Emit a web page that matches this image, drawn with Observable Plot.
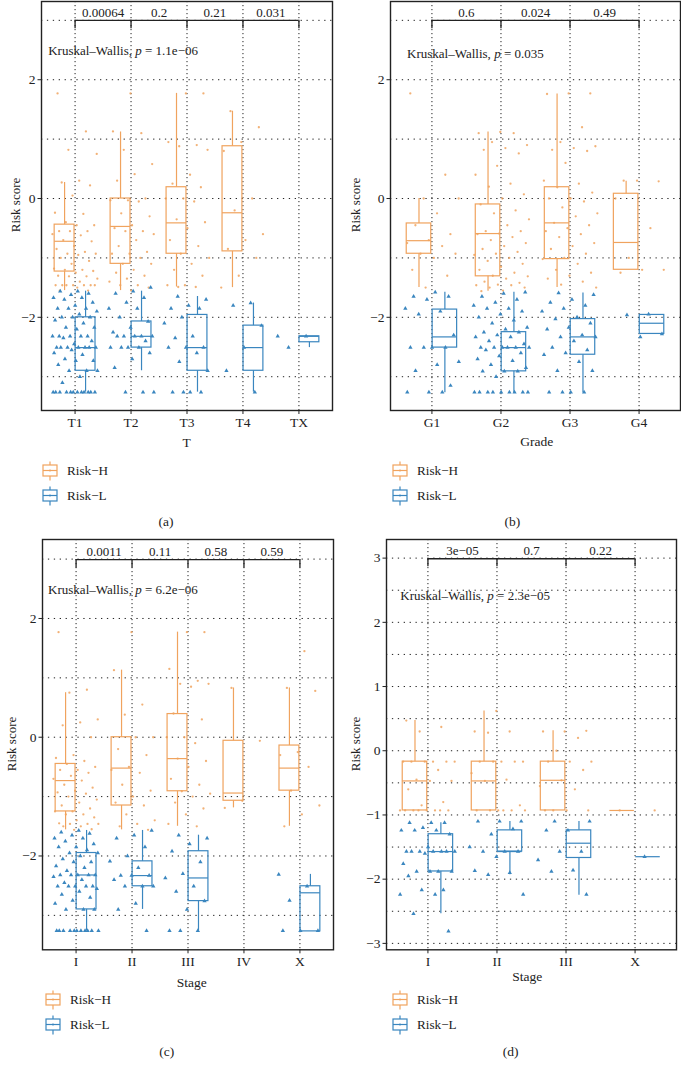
<!DOCTYPE html>
<html><head><meta charset="utf-8">
<script src="https://cdn.jsdelivr.net/npm/d3@7"></script>
<script src="https://cdn.jsdelivr.net/npm/@observablehq/plot@0.6"></script>
<style>
body{margin:0;background:#fff;}
#root{position:relative;width:681px;height:1069px;overflow:hidden;font-family:"Liberation Serif",serif;color:#222;}
.pnl{position:absolute;}
.lbl{position:absolute;transform:translate(-50%,-50%);white-space:nowrap;font-size:13.5px;}
.leg{position:absolute;font-size:13.2px;white-space:nowrap;display:flex;align-items:center;transform:translateY(-50%);}
</style></head><body><div id="root"></div>
<script>
const ORANGE = "#F0A35E", BLUE = "#3A86BF";

// ---------- Panel (a): T ----------
const aCats = ["T1","T2","T3","T4","TX"];
const aPvals = ["0.00064","0.2","0.21","0.031"];
const aKW = "1.1e−06";
const aH_q1  = [-1.23,-1.10,-0.93,-0.89,null];
const aH_med = [-0.72,-0.47,-0.41,-0.24,null];
const aH_q3  = [-0.44, 0.00, 0.19, 0.88,null];
const aH_lo  = [-1.55,-1.55,-1.49,-1.50,null];
const aH_hi  = [ 0.27, 1.12, 1.77, 1.47,null];
const aL_q1  = [-2.90,-2.51,-2.90,-2.90,-2.42];
const aL_med = [-2.51,-2.32,-2.51,-2.51,-2.32];
const aL_q3  = [-2.00,-2.07,-1.96,-2.14,-2.32];
const aL_lo  = [-3.26,-2.90,-3.26,-3.26,-2.51];
const aL_hi  = [-1.56,-1.56,-1.65,-1.76,-2.32];
const aH_pts = [
 [1.77,1.13,0.82,0.75,0.30,0.27,0.22,0.05,-0.24,-0.26,-0.40,-0.45,-0.45,-0.55,-0.55,-0.55,-0.60,-0.62,-0.70,-0.72,-0.80,-0.85,-0.90,-0.93,-0.93,-0.95,-1.00,-1.05,-1.10,-1.18,-1.20,-1.20,-1.22,-1.25,-1.30,-1.31,-1.31,-1.35,-1.40,-1.46,-1.46,-1.46,-1.46,-1.46,-1.46,-1.46,-1.50,-1.55,-1.55],
 [1.77,1.13,1.10,0.82,0.58,0.41,0.30,0.00,-0.03,-0.03,-0.05,-0.25,-0.30,-0.45,-0.50,-0.55,-0.55,-0.60,-0.70,-0.80,-0.90,-0.93,-0.93,-1.00,-1.10,-1.10,-1.20,-1.25,-1.30,-1.35,-1.40,-1.46,-1.46,-1.50,-1.55],
 [1.77,1.77,0.95,0.90,0.88,0.82,0.40,0.25,0.19,0.00,0.00,-0.05,-0.35,-0.40,-0.50,-0.70,-0.80,-0.93,-1.00,-1.10,-1.20,-1.30,-1.46,-1.46,-1.49,-1.49],
 [1.47,1.20,0.95,0.80,0.00,-0.20,-0.60,-0.70,-0.85,-1.00,-1.30,-1.50],
 []
];
const aL_pts = [
 [-1.56,-1.56,-1.60,-1.62,-1.67,-1.67,-1.70,-1.75,-1.80,-1.85,-1.85,-1.85,-1.90,-1.95,-2.00,-2.00,-2.00,-2.05,-2.10,-2.17,-2.17,-2.20,-2.32,-2.32,-2.32,-2.32,-2.32,-2.35,-2.40,-2.45,-2.51,-2.51,-2.51,-2.51,-2.51,-2.51,-2.51,-2.55,-2.60,-2.63,-2.70,-2.73,-2.73,-2.80,-2.90,-2.90,-2.90,-3.00,-3.10,-3.26,-3.26,-3.26,-3.26,-3.26,-3.26,-3.26,-3.26,-3.26,-3.26,-3.26,-3.26],
 [-1.50,-1.56,-1.60,-1.67,-1.75,-1.85,-1.85,-2.00,-2.07,-2.17,-2.25,-2.32,-2.32,-2.32,-2.32,-2.32,-2.40,-2.51,-2.51,-2.51,-2.51,-2.60,-2.70,-2.85,-3.26,-3.26,-3.26],
 [-1.65,-1.70,-1.80,-1.85,-1.85,-2.00,-2.10,-2.32,-2.35,-2.51,-2.51,-2.51,-2.60,-2.75,-2.90,-3.26,-3.26,-3.26,-3.26],
 [-1.76,-1.80,-2.14,-2.51,-2.90,-3.26],
 [-2.32,-2.32,-2.51]
];

// ---------- Panel (b): Grade ----------
const bCats = ["G1","G2","G3","G4"];
const bPvals = ["0.6","0.024","0.49"];
const bKW = "0.035";
const bH_q1  = [-0.93,-1.31,-1.02,-1.20];
const bH_med = [-0.71,-0.59,-0.41,-0.74];
const bH_q3  = [-0.42,-0.10, 0.19, 0.08];
const bH_lo  = [-1.50,-1.56,-1.50,-1.20];
const bH_hi  = [ 0.00, 1.12, 1.76, 0.29];
const bL_q1  = [-2.51,-2.91,-2.63,-2.28];
const bL_med = [-2.33,-2.51,-2.33,-2.10];
const bL_q3  = [-1.87,-2.25,-2.03,-1.96];
const bL_lo  = [-3.27,-3.27,-3.27,-2.28];
const bL_hi  = [-1.58,-1.58,-1.59,-1.96];
const bH_pts = [
 [1.77,0.40,0.00,0.00,-0.25,-0.45,-0.60,-0.70,-0.75,-0.80,-0.93,-0.93,-1.00,-1.20,-1.30,-1.50],
 [1.12,1.10,1.10,0.95,0.90,0.85,0.82,0.76,0.55,0.40,0.25,0.20,0.07,0.00,-0.10,-0.20,-0.25,-0.35,-0.45,-0.55,-0.55,-0.59,-0.60,-0.65,-0.70,-0.75,-0.80,-0.85,-0.90,-0.93,-0.95,-1.00,-1.05,-1.10,-1.15,-1.20,-1.25,-1.30,-1.31,-1.35,-1.40,-1.42,-1.45,-1.46,-1.46,-1.50,-1.50,-1.55,-1.56],
 [1.77,1.77,1.76,1.20,0.95,0.88,0.85,0.82,0.80,0.60,0.30,0.25,0.19,0.10,0.00,0.00,-0.05,-0.15,-0.25,-0.30,-0.41,-0.45,-0.50,-0.55,-0.60,-0.65,-0.75,-0.80,-0.85,-0.93,-1.00,-1.02,-1.10,-1.20,-1.25,-1.30,-1.35,-1.40,-1.45,-1.50],
 [0.30,0.29,0.30,0.00,-0.50,-1.00,-1.20,-1.20,-1.25]
];
const bL_pts = [
 [-1.58,-1.65,-1.65,-1.70,-1.85,-1.90,-1.95,-2.30,-2.51,-2.51,-2.51,-2.51,-2.75,-2.80,-2.90,-3.15,-3.26,-3.26,-3.26],
 [-1.58,-1.60,-1.65,-1.70,-1.75,-1.80,-1.85,-1.85,-1.90,-1.95,-2.00,-2.05,-2.10,-2.17,-2.20,-2.25,-2.25,-2.30,-2.33,-2.33,-2.40,-2.45,-2.51,-2.51,-2.51,-2.51,-2.51,-2.51,-2.55,-2.60,-2.65,-2.70,-2.73,-2.80,-2.85,-2.91,-2.91,-2.91,-3.00,-3.26,-3.26,-3.26,-3.26,-3.26,-3.26,-3.26,-3.26,-3.26],
 [-1.59,-1.62,-1.70,-1.75,-1.80,-1.85,-1.90,-2.00,-2.03,-2.10,-2.17,-2.20,-2.30,-2.33,-2.33,-2.40,-2.51,-2.55,-2.60,-2.63,-2.75,-2.90,-2.90,-3.26,-3.26,-3.26,-3.26],
 [-1.95,-1.96,-2.28,-2.33]
];

// ---------- Panel (c): Stage ----------
const cCats = ["I","II","III","IV","X"];
const cPvals = ["0.0011","0.11","0.58","0.59"];
const cKW = "6.2e−06";
const cH_q1  = [-1.25,-1.15,-0.91,-1.07,-0.90];
const cH_med = [-0.73,-0.52,-0.36,-0.94,-0.52];
const cH_q3  = [-0.45, 0.00, 0.39,-0.06,-0.14];
const cH_lo  = [-1.56,-1.56,-1.50,-1.19,-1.50];
const cH_hi  = [ 0.75, 1.13, 1.77, 0.83, 0.83];
const cL_q1  = [-2.90,-2.51,-2.76,null,-3.27];
const cL_med = [-2.32,-2.33,-2.37,null,-2.62];
const cL_q3  = [-1.95,-2.09,-1.92,null,-2.51];
const cL_lo  = [-3.26,-2.90,-3.26,null,-3.27];
const cL_hi  = [-1.57,-1.57,-1.65,null,-2.31];
const cH_pts = [
 [1.77,0.80,0.75,0.30,0.25,0.20,0.00,-0.30,-0.35,-0.40,-0.45,-0.50,-0.55,-0.55,-0.60,-0.65,-0.70,-0.73,-0.80,-0.85,-0.90,-0.93,-0.95,-1.00,-1.05,-1.10,-1.15,-1.20,-1.25,-1.25,-1.30,-1.30,-1.35,-1.40,-1.45,-1.46,-1.46,-1.46,-1.50,-1.50,-1.55,-1.56],
 [1.77,1.13,0.55,0.38,0.00,0.00,-0.20,-0.30,-0.50,-0.55,-0.60,-0.80,-0.90,-1.00,-1.10,-1.15,-1.30,-1.40,-1.46,-1.50,-1.56],
 [1.77,1.77,1.15,0.95,0.90,0.90,0.85,0.40,0.30,0.00,0.00,-0.10,-0.36,-0.40,-0.50,-0.70,-0.80,-0.91,-0.95,-1.00,-1.10,-1.20,-1.30,-1.46,-1.50],
 [0.83,-0.06,-1.07,-1.19],
 [1.45,0.83,0.78,-0.25,-0.30,-0.50,-0.90,-1.15,-1.30,-1.50]
];
const cL_pts = [
 [-1.57,-1.60,-1.62,-1.65,-1.70,-1.70,-1.75,-1.80,-1.85,-1.85,-1.90,-1.95,-1.95,-2.00,-2.05,-2.10,-2.10,-2.17,-2.20,-2.25,-2.32,-2.32,-2.32,-2.32,-2.32,-2.35,-2.40,-2.45,-2.51,-2.51,-2.51,-2.51,-2.51,-2.55,-2.60,-2.65,-2.70,-2.75,-2.80,-2.90,-2.90,-2.90,-3.26,-3.26,-3.26,-3.26,-3.26,-3.26,-3.26,-3.26,-3.26,-3.26,-3.26],
 [-1.57,-1.65,-1.70,-1.85,-2.00,-2.09,-2.20,-2.33,-2.33,-2.33,-2.40,-2.51,-2.51,-2.51,-2.80,-2.90,-3.26],
 [-1.65,-1.70,-1.80,-1.92,-2.10,-2.30,-2.37,-2.51,-2.60,-2.76,-2.90,-3.26,-3.26,-3.26],
 [],
 [-2.31,-2.51,-2.75,-3.26,-3.26,-3.26]
];

// ---------- Panel (d): Stage ----------
const dCats = ["I","II","III","X"];
const dPvals = ["3e−05","0.7","0.22"];
const dKW = "2.3e−05";
const dH_q1  = [-0.93,-0.93,-0.93,-0.93];
const dH_med = [-0.47,-0.47,-0.46,-0.93];
const dH_q3  = [-0.17,-0.17,-0.17,-0.93];
const dH_lo  = [-0.93,-0.93,-0.93,-0.93];
const dH_hi  = [ 0.47, 0.62, 0.31,-0.93];
const dL_q1  = [-1.88,-1.57,-1.67,-1.65];
const dL_med = [-1.57,-1.57,-1.44,-1.65];
const dL_q3  = [-1.30,-1.24,-1.24,-1.65];
const dL_lo  = [-2.54,-1.93,-2.25,-1.65];
const dL_hi  = [-1.12,-1.10,-1.10,-1.65];
const dH_pts = [
 [0.47,0.37,0.30,-0.17,-0.17,-0.17,-0.17,-0.17,-0.17,-0.30,-0.45,-0.47,-0.47,-0.60,-0.80,-0.85,-0.93,-0.93,-0.93,-0.93,-0.93,-0.93,-0.93,-0.93],
 [0.62,0.30,0.30,0.28,-0.17,-0.17,-0.17,-0.17,-0.17,-0.35,-0.45,-0.47,-0.85,-0.93,-0.93,-0.93,-0.93,-0.93,-0.93],
 [0.31,0.30,0.30,0.20,0.00,-0.17,-0.17,-0.17,-0.30,-0.46,-0.55,-0.60,-0.93,-0.93,-0.93,-0.93],
 [-0.93,-0.93]
];
const dL_pts = [
 [-1.12,-1.12,-1.12,-1.20,-1.24,-1.24,-1.24,-1.30,-1.50,-1.57,-1.57,-1.57,-1.57,-1.57,-1.57,-1.57,-1.60,-1.76,-1.88,-1.88,-1.88,-1.88,-1.95,-2.17,-2.17,-2.24,-2.24,-2.54,-2.81],
 [-1.10,-1.10,-1.10,-1.22,-1.30,-1.50,-1.57,-1.57,-1.57,-1.65,-1.87,-1.90,-1.93,-2.24],
 [-1.10,-1.10,-1.24,-1.24,-1.57,-1.57,-1.70,-1.86,-1.88,-2.24],
 [-1.65]
];

// ---------- helpers ----------
function statRows(q1, med, q3, lo, hi) {
  return q1.map((v, i) => v == null ? null : {c: i + 1, q1: v, med: med[i], q3: q3[i], lo: lo[i], hi: hi[i]}).filter(Boolean);
}
function pointRows(groups, seed) {
  const out = [];
  groups.forEach((vals, ci) => vals.forEach((v, k) => out.push({c: ci + 1, v, k, s: seed})));
  return out;
}
const jit = d => d.c + (((((d.k + 1) * 0.6180339887 + d.c * 0.37 + d.s) % 1) - 0.5) * 0.82);
const numFmt = d => (d < 0 ? "−" : "") + Math.abs(d);

function panel(o) {
  const n = o.cats.length, idx = d3.range(1, n + 1);
  const H = statRows(...o.hStats), L = statRows(...o.lStats);
  const bw = 0.355, gap = 0.01;
  const boxMarks = (rows, side, color) => {
    const x1 = d => side < 0 ? d.c - bw - gap : d.c + gap;
    const x2 = d => side < 0 ? d.c - gap : d.c + bw + gap;
    const xc = d => d.c + side * (bw / 2 + gap);
    return [
      Plot.ruleX(rows, {x: xc, y1: "q3", y2: "hi", stroke: color, strokeWidth: 1.2}),
      Plot.ruleX(rows, {x: xc, y1: "lo", y2: "q1", stroke: color, strokeWidth: 1.2}),
      Plot.rect(rows, {x1, x2, y1: "q1", y2: "q3", stroke: color, fill: "none", strokeWidth: 1.2}),
      Plot.ruleY(rows, {x1, x2, y: "med", stroke: color, strokeWidth: 1.2})
    ];
  };
  const plot = Plot.plot({
    width: o.width, height: o.height,
    marginLeft: o.ml, marginRight: o.mr, marginTop: o.mt, marginBottom: o.mb,
    style: {fontFamily: "Liberation Serif, serif", fontSize: "13px", color: "#222", background: "transparent", overflow: "visible"},
    x: {type: "linear", domain: [0.4, n + 0.6]},
    y: {type: "linear", domain: o.yDomain},
    marks: [
      Plot.ruleY(o.grid, {stroke: "#222", strokeWidth: 1, strokeDasharray: "1.3,4.6"}),
      Plot.ruleX(idx, {stroke: "#222", strokeWidth: 1, strokeDasharray: "1.2,2.8"}),
      ...boxMarks(H, -1, ORANGE),
      ...boxMarks(L, 1, BLUE),
      Plot.dot(pointRows(o.hPts, 0.13), {x: jit, y: "v", r: 1.15, fill: ORANGE, fillOpacity: 0.85, stroke: "none"}),
      Plot.dot(pointRows(o.lPts, 0.57), {x: jit, y: "v", r: 1.6, symbol: "triangle", fill: BLUE, stroke: "none"}),
      Plot.ruleY([o.bracketY], {x1: 1, x2: n, stroke: "#222", strokeWidth: 1.3}),
      Plot.ruleX(idx, {x: d => d, y1: o.bracketY, y2: o.bracketY - o.tick, stroke: "#222", strokeWidth: 1.3}),
      Plot.text(o.pvals, {x: (d, i) => i + 1.5, y: o.bracketY + o.labOff, text: d => d, fontSize: 13, fill: "#222"}),
      Plot.text(["Kruskal–Wallis, p = " + o.kw], {x: o.kwX, y: o.kwY, text: d => d, textAnchor: "start", fontSize: 13, fill: "#222"}),
      Plot.frame({stroke: "#222", strokeWidth: 1.4}),
      Plot.axisY({ticks: o.yTicks, tickFormat: numFmt, tickSize: 3.5, tickPadding: 2.5, fontSize: 13.5, label: null, fill: "#222"}),
      Plot.axisX({ticks: idx, tickFormat: d => o.cats[d - 1], tickSize: 4, tickPadding: 3, fontSize: 13.5, label: null, fill: "#222"})
    ]
  });
  plot.querySelectorAll("text").forEach(t => {
    if (t.textContent.startsWith("Kruskal")) {
      const s = t.textContent;
      const k = s.indexOf("p = ");
      t.textContent = "";
      const ns = "http://www.w3.org/2000/svg";
      const a = document.createElementNS(ns, "tspan"); a.textContent = s.slice(0, k);
      const b = document.createElementNS(ns, "tspan"); b.textContent = "p"; b.setAttribute("font-style", "italic");
      const c = document.createElementNS(ns, "tspan"); c.textContent = s.slice(k + 1);
      t.append(a, b, c);
    }
  });
  const wrap = document.createElement("div");
  wrap.className = "pnl";
  wrap.style.left = o.left + "px"; wrap.style.top = o.top + "px";
  wrap.appendChild(plot);
  return wrap;
}

const root = document.getElementById("root");
const gridInt = [-3, -2, -1, 0, 1, 2, 3];
const gridHalf = d3.range(-3, 3.01, 0.5);

root.appendChild(panel({left: 0, top: 0, width: 340, height: 440, ml: 41, mr: 8, mt: 1, mb: 30,
  cats: aCats, yDomain: [-3.569, 3.317], grid: gridInt, yTicks: [-2, 0, 2],
  hStats: [aH_q1, aH_med, aH_q3, aH_lo, aH_hi], lStats: [aL_q1, aL_med, aL_q3, aL_lo, aL_hi],
  hPts: aH_pts, lPts: aL_pts, bracketY: 3.0, tick: 0.14, labOff: 0.12, pvals: aPvals, kw: aKW, kwX: 0.52, kwY: 2.49}));
root.appendChild(panel({left: 349, top: 0, width: 332, height: 440, ml: 41, mr: 1, mt: 1, mb: 30,
  cats: bCats, yDomain: [-3.569, 3.317], grid: gridInt, yTicks: [-2, 0, 2],
  hStats: [bH_q1, bH_med, bH_q3, bH_lo, bH_hi], lStats: [bL_q1, bL_med, bL_q3, bL_lo, bL_hi],
  hPts: bH_pts, lPts: bL_pts, bracketY: 3.0, tick: 0.14, labOff: 0.12, pvals: bPvals, kw: bKW, kwX: 0.64, kwY: 2.44}));
root.appendChild(panel({left: 0, top: 530, width: 340, height: 450, ml: 42, mr: 7, mt: 9, mb: 30.7,
  cats: cCats, yDomain: [-3.58, 3.33], grid: gridInt, yTicks: [-2, 0, 2],
  hStats: [cH_q1, cH_med, cH_q3, cH_lo, cH_hi], lStats: [cL_q1, cL_med, cL_q3, cL_lo, cL_hi],
  hPts: cH_pts, lPts: cL_pts, bracketY: 2.99, tick: 0.14, labOff: 0.13, pvals: cPvals, kw: cKW, kwX: 0.50, kwY: 2.49}));
root.appendChild(panel({left: 345, top: 530, width: 336, height: 450, ml: 41, mr: 5, mt: 9, mb: 30.7,
  cats: dCats, yDomain: [-3.10, 3.29], grid: gridHalf, yTicks: [-3, -2, -1, 0, 1, 2, 3],
  hStats: [dH_q1, dH_med, dH_q3, dH_lo, dH_hi], lStats: [dL_q1, dL_med, dL_q3, dL_lo, dL_hi],
  hPts: dH_pts, lPts: dL_pts, bracketY: 2.99, tick: 0.125, labOff: 0.12, pvals: dPvals, kw: dKW, kwX: 0.60, kwY: 2.41}));

// ---------- text around panels ----------
function label(txt, x, y, extra) {
  const d = document.createElement("div");
  d.className = "lbl"; d.textContent = txt;
  d.style.left = x + "px"; d.style.top = y + "px";
  if (extra) Object.assign(d.style, extra);
  root.appendChild(d);
}
label("T", 186.7, 442.7);
label("Grade", 536.7, 442.3);
label("Stage", 191.7, 983.3);
label("Stage", 527.3, 976.7);
const rot = {transform: "translate(-50%,-50%) rotate(-90deg)", fontSize: "13px"};
label("Risk score", 16, 205, rot);
label("Risk score", 356, 205, rot);
label("Risk score", 12, 744, rot);
label("Risk score", 356, 744, rot);
label("(a)", 166, 521.7);
label("(b)", 512.3, 521.5);
label("(c)", 166.7, 1051.7);
label("(d)", 510.7, 1051.7);

function glyph(color) {
  return `<svg width="16" height="20" style="margin-right:9px;display:block"><g stroke="${color}" stroke-width="1.2" fill="none">
  <line x1="8" y1="0.5" x2="8" y2="4"/><rect x="1" y="4" width="14" height="11"/><line x1="1" y1="9.5" x2="15" y2="9.5"/><line x1="8" y1="15" x2="8" y2="19.5"/></g>
  <circle cx="8" cy="9.5" r="1" fill="${color}"/></svg>`;
}
function legend(x, y1, y2) {
  [["Risk−H", ORANGE, y1], ["Risk−L", BLUE, y2]].forEach(([t, c, y]) => {
    const d = document.createElement("div");
    d.className = "leg";
    d.style.left = x + "px"; d.style.top = y + "px";
    d.innerHTML = glyph(c) + `<span>${t}</span>`;
    root.appendChild(d);
  });
}
legend(42, 470.7, 495.7);
legend(392, 470.7, 495.7);
legend(45, 1000, 1025);
legend(392, 1000, 1025);
</script></body></html>
